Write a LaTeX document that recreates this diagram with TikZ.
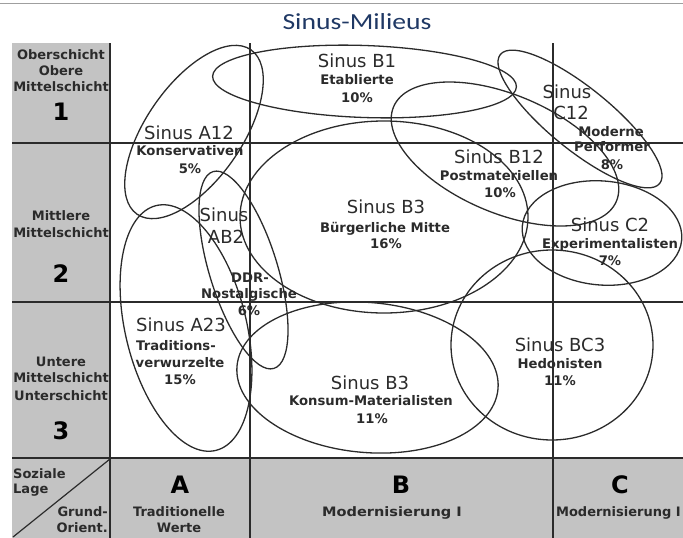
\documentclass[tikz,border=0pt]{standalone}
\usepackage{fontspec}
\setmainfont{DejaVu Sans}
\newfontfamily\titlef[FakeStretch=1.2]{Carlito}
\newfontfamily\widebf[FakeStretch=1.12]{DejaVu Sans}
\definecolor{navy}{HTML}{1F3864}
\definecolor{cellgray}{HTML}{C3C3C3}
\definecolor{ink}{HTML}{2B2B2B}
\begin{document}
\begin{tikzpicture}[x=1pt,y=-1pt,
  sinus/.style={anchor=base, inner sep=0pt, text=ink, font=\fontsize{18}{20}\selectfont},
  lbl/.style={anchor=base, inner sep=0pt, text=ink, font=\bfseries\fontsize{13.2}{15}\selectfont},
  rowlbl/.style={anchor=base, inner sep=0pt, text=ink, font=\bfseries\fontsize{13}{15}\selectfont},
  widelbl/.style={anchor=base, inner sep=0pt, text=ink, font=\widebf\bfseries\fontsize{13}{15}\selectfont},
  bignum/.style={anchor=base, inner sep=0pt, text=black, font=\bfseries\fontsize{24}{26}\selectfont},
  gridline/.style={draw=ink, line width=1.4pt},
  ell/.style={draw=ink, line width=1.3pt},
]
\useasboundingbox (0,0) rectangle (683,538);
% background cells
\fill[cellgray] (12,43) rectangle (110,538);
\fill[cellgray] (110,458) rectangle (683,538);
% top rule
\draw[gray!75, line width=0.8pt] (0,3) -- (683,3);
% grid
\draw[gridline] (12,143) -- (683,143);
\draw[gridline] (12,302) -- (683,302);
\draw[gridline] (12,458) -- (683,458);
\draw[gridline] (110,43) -- (110,538);
\draw[gridline] (250,43) -- (250,538);
\draw[gridline] (553,43) -- (553,538);
\draw[ink, line width=1.2pt] (110,459) -- (13,537);
% ellipses
\draw[ell, rotate around={-2:(364.5,81.5)}] (364.5,81.5) ellipse [x radius=152, y radius=36];
\draw[ell, rotate around={55.3:(194,132)}] (194,132) ellipse [x radius=100, y radius=48];
\draw[ell, rotate around={-23:(505,154)}] (505,154) ellipse [x radius=121, y radius=59];
\draw[ell, rotate around={-39:(580,119)}] (580,119) ellipse [x radius=102.5, y radius=31];
\draw[ell] (384,217) ellipse [x radius=144, y radius=96];
\draw[ell, rotate around={-72.8:(243.5,270)}] (243.5,270) ellipse [x radius=103, y radius=34];
\draw[ell, rotate around={-5:(602,233)}] (602,233) ellipse [x radius=80, y radius=52];
\draw[ell, rotate around={-76.3:(186,328)}] (186,328) ellipse [x radius=126, y radius=60.5];
\draw[ell, rotate around={-5:(367.5,377.5)}] (367.5,377.5) ellipse [x radius=131, y radius=75];
\draw[ell] (552,345) ellipse [x radius=101, y radius=95];
% title
\node[anchor=base, inner sep=0pt, text=navy, font=\titlef\fontsize{23}{26}\selectfont] (title) at (357,29.5) {Sinus-Milieus};
% row labels
\node[rowlbl] (r1a) at (61,59) {Oberschicht};
\node[rowlbl] (r1b) at (61,75) {Obere};
\node[rowlbl] (r1c) at (61,91) {Mittelschicht};
\node[bignum] (r1n) at (61,120) {1};
\node[rowlbl] (r2a) at (61,220) {Mittlere};
\node[rowlbl] (r2b) at (61,237) {Mittelschicht};
\node[bignum] (r2n) at (61,282) {2};
\node[rowlbl] (r3a) at (61,366) {Untere};
\node[rowlbl] (r3b) at (61,382) {Mittelschicht};
\node[rowlbl] (r3c) at (61,400) {Unterschicht};
\node[bignum] (r3n) at (61,439) {3};
% corner cell
\node[rowlbl, anchor=base west] (sl1) at (13,478) {Soziale};
\node[rowlbl, anchor=base west] (sl2) at (13,493) {Lage};
\node[rowlbl, anchor=base east] (go1) at (108,516) {Grund-};
\node[rowlbl, anchor=base east] (go2) at (108,532) {Orient.};
% column labels
\node[bignum] (cA) at (180,493) {A};
\node[rowlbl] (cA1) at (179,516) {Traditionelle};
\node[rowlbl] (cA2) at (179,532) {Werte};
\node[bignum] (cB) at (401,493) {B};
\node[widelbl] (cB1) at (392,516) {Modernisierung I};
\node[bignum] (cC) at (620,493) {C};
\node[rowlbl, anchor=base east] (cC1) at (681,516) {Modernisierung I};
% milieu labels
\node[sinus] (b1s) at (357,67.5) {Sinus B1};
\node[lbl] (b1l) at (357,84) {Etablierte};
\node[lbl] (b1p) at (357,102) {10\%};
\node[sinus] (a12s) at (189,139.5) {Sinus A12};
\node[lbl] (a12l) at (190,155) {Konservativen};
\node[lbl] (a12p) at (190,173) {5\%};
\node[sinus] (b3ms) at (386,213.5) {Sinus B3};
\node[lbl] (b3ml) at (385,232) {Bürgerliche Mitte};
\node[lbl] (b3mp) at (386,248) {16\%};
\node[sinus] (b12s) at (499,163.5) {Sinus B12};
\node[lbl] (b12l) at (499,180) {Postmateriellen};
\node[lbl] (b12p) at (500,197) {10\%};
\node[sinus] (c12s) at (567,98.5) {Sinus};
\node[sinus] (c12t) at (571,119.5) {C12};
\node[lbl] (c12l) at (611,136) {Moderne};
\node[lbl] (c12m) at (612,151) {Performer};
\node[lbl] (c12p) at (612,169) {8\%};
\node[sinus] (c2s) at (610,231.5) {Sinus C2};
\node[lbl] (c2l) at (610,248) {Experimentalisten};
\node[lbl] (c2p) at (610,265) {7\%};
\node[sinus] (ab2s) at (224,221.5) {Sinus};
\node[sinus] (ab2t) at (226,243.5) {AB2};
\node[lbl] (ab2l) at (250,282) {DDR-};
\node[lbl] (ab2m) at (249,298) {Nostalgische};
\node[lbl] (ab2p) at (249,315) {6\%};
\node[sinus] (a23s) at (181,331.5) {Sinus A23};
\node[lbl] (a23l) at (176,350) {Traditions-};
\node[lbl] (a23m) at (180,367) {verwurzelte};
\node[lbl] (a23p) at (180,384) {15\%};
\node[sinus] (b3ks) at (370,389.5) {Sinus B3};
\node[lbl] (b3kl) at (371,405) {Konsum-Materialisten};
\node[lbl] (b3kp) at (372,423) {11\%};
\node[sinus] (bc3s) at (560,351.5) {Sinus BC3};
\node[lbl] (bc3l) at (560,368) {Hedonisten};
\node[lbl] (bc3p) at (560,385) {11\%};
\end{tikzpicture}
\end{document}
